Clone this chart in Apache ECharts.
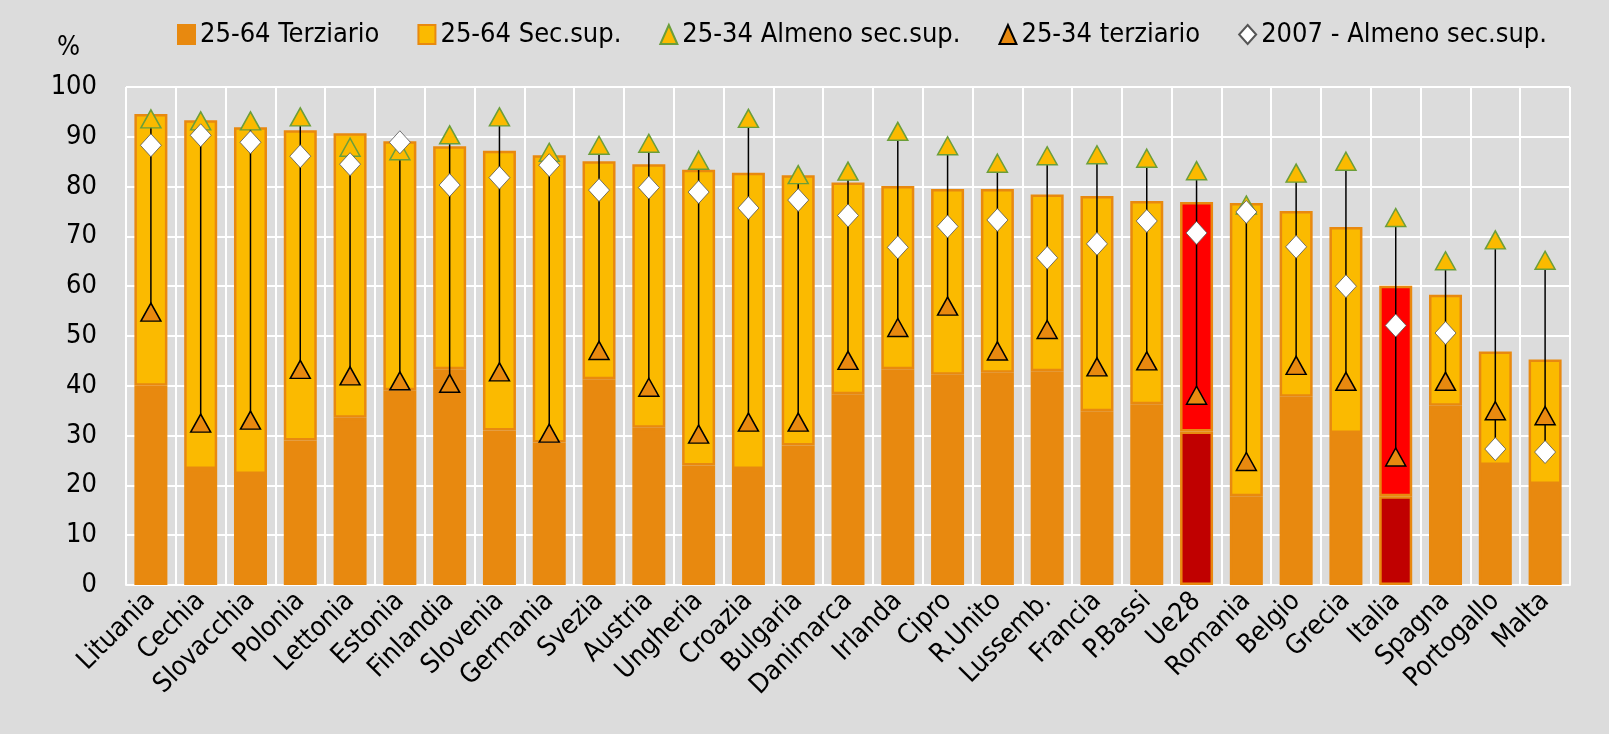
<!DOCTYPE html>
<html>
<head>
<meta charset="utf-8">
<script src="https://cdn.jsdelivr.net/npm/echarts@6/dist/echarts.min.js"></script>
<style>
  html, body { margin: 0; padding: 0; background: #dcdcdc; }
  #chart { width: 1609px; height: 734px; }
</style>
</head>
<body>
<div id="chart"></div>
<script>
var paesi = ['Lituania','Cechia','Slovacchia','Polonia','Lettonia','Estonia','Finlandia','Slovenia','Germania','Svezia',
  'Austria','Ungheria','Croazia','Bulgaria','Danimarca','Irlanda','Cipro','R.Unito','Lussemb.','Francia',
  'P.Bassi','Ue28','Romania','Belgio','Grecia','Italia','Spagna','Portogallo','Malta'];
// 25-64 terziario
var terziario2564 = [40.0,23.3,22.3,29.0,33.6,39.1,43.3,31.0,28.6,41.3,
  31.6,24.0,23.3,28.0,38.3,43.3,42.2,42.6,42.9,34.9,
  36.3,30.8,17.8,37.8,30.5,17.8,36.0,24.1,20.3];
// 25-64 secondaria superiore (segmento sopra il terziario)
var secSup2564 = [54.6,70.0,69.6,62.3,57.1,50.0,44.8,56.2,57.7,43.8,
  52.9,59.4,59.5,54.3,42.5,36.8,37.3,36.9,35.5,43.2,
  40.8,46.1,58.9,37.3,41.4,42.3,22.3,22.8,25.0];
// 25-34 almeno secondaria superiore
var almeno2534 = [93.6,93.2,93.2,94.0,87.9,87.2,90.4,94.0,86.9,88.3,
  88.7,85.3,93.7,82.4,83.1,91.1,88.2,84.7,86.2,86.4,
  85.7,83.2,76.3,82.7,85.1,73.8,65.1,69.3,65.2];
// 25-34 terziario
var terziario2534 = [54.8,32.5,33.1,43.3,42.0,41.0,40.5,42.8,30.5,47.1,
  39.7,30.3,32.7,32.7,45.1,51.7,56.0,47.0,51.3,43.8,
  45.0,38.1,24.8,44.1,40.9,25.7,40.9,35.0,34.0];
// 2007 almeno secondaria superiore
var almeno2007 = [88.3,90.3,88.9,86.1,84.5,88.9,80.3,81.8,84.3,79.3,
  79.8,78.9,75.7,77.3,74.2,67.8,72.0,73.3,65.7,68.5,
  73.1,70.7,74.9,67.9,60.0,52.1,50.6,27.3,26.7];
var evidenziati = ['Ue28','Italia'];
var yTicks = [0,10,20,30,40,50,60,70,80,90,100];

var font = "'Liberation Sans Narrow', 'Arial Narrow', 'DejaVu Sans Condensed', sans-serif";
var arancio = '#e8890f', giallo = '#fbba00';

function barData(vals, colNorm, colEvid) {
  return vals.map(function (v, i) {
    var ev = evidenziati.indexOf(paesi[i]) >= 0;
    return { value: v, itemStyle: { color: ev ? colEvid : colNorm } };
  });
}
var hiLo = paesi.map(function (p, i) {
  var a = [almeno2534[i], terziario2534[i], almeno2007[i]];
  return [i, Math.min.apply(null, a), Math.max.apply(null, a)];
});

var myChart = echarts.init(document.getElementById('chart'));
var option = {
  backgroundColor: '#dcdcdc',
  animation: false,
  textStyle: { fontFamily: font },
  legend: {
    top: 16, left: 172,
    itemGap: 38, itemWidth: 17, itemHeight: 19,
    textStyle: { fontSize: 27, color: '#000', fontFamily: font },
    data: [
      { name: '25-64 Terziario', icon: 'rect' },
      { name: '25-64 Sec.sup.', icon: 'rect' },
      { name: '25-34 Almeno sec.sup.', icon: 'triangle' },
      { name: '25-34 terziario', icon: 'triangle' },
      { name: '2007 - Almeno sec.sup.', icon: 'diamond' }
    ]
  },
  grid: { left: 126, right: 39, top: 87, bottom: 149 },
  xAxis: {
    type: 'category',
    data: paesi,
    axisTick: { show: false },
    axisLine: { show: true, lineStyle: { color: '#fff', width: 2 } },
    splitLine: { show: true, interval: 0, lineStyle: { color: '#fff', width: 2 } },
    axisLabel: { rotate: 45, interval: 0, fontSize: 27, color: '#000', margin: 12, fontFamily: font }
  },
  yAxis: {
    type: 'value', min: 0, max: 100, interval: 10,
    name: '%', nameLocation: 'end', nameGap: 26,
    nameTextStyle: { fontSize: 27, color: '#000', align: 'right', padding: [0, 46, 0, 0], fontFamily: font },
    axisLine: { show: false }, axisTick: { show: false },
    splitLine: { lineStyle: { color: '#fff', width: 2 } },
    axisLabel: { fontSize: 27, color: '#000', margin: 29, fontFamily: font,
      formatter: function (v) { return yTicks.indexOf(v) >= 0 ? String(v) : ''; } }
  },
  series: [
    {
      name: '25-64 Terziario', type: 'bar', stack: 'tot', barWidth: 33,
      itemStyle: { color: arancio, borderColor: arancio, borderWidth: 2.5 },
      data: barData(terziario2564, arancio, '#c00000')
    },
    {
      name: '25-64 Sec.sup.', type: 'bar', stack: 'tot', barWidth: 33,
      itemStyle: { color: giallo, borderColor: arancio, borderWidth: 2.5 },
      data: barData(secSup2564, giallo, '#ff0000')
    },
    {
      name: 'hilo', type: 'custom', z: 3,
      encode: { x: 0, y: [1, 2] },
      renderItem: function (params, api) {
        var lo = api.coord([api.value(0), api.value(1)]);
        var hi = api.coord([api.value(0), api.value(2)]);
        return { type: 'line', shape: { x1: lo[0], y1: lo[1], x2: hi[0], y2: hi[1] },
          style: { stroke: '#000', lineWidth: 1.5 } };
      },
      data: hiLo
    },
    {
      name: '25-34 Almeno sec.sup.', type: 'scatter', symbol: 'triangle', symbolSize: [20, 18], z: 4,
      itemStyle: { color: giallo, borderColor: '#6b9e3a', borderWidth: 1.5, opacity: 1 },
      data: almeno2534
    },
    {
      name: '25-34 terziario', type: 'scatter', symbol: 'triangle', symbolSize: [20, 18], z: 5,
      itemStyle: { color: arancio, borderColor: '#000', borderWidth: 1.5, opacity: 1 },
      data: terziario2534
    },
    {
      name: '2007 - Almeno sec.sup.', type: 'scatter', symbol: 'diamond', symbolSize: [21, 23], z: 6,
      itemStyle: { color: '#fff', borderColor: '#555', borderWidth: 0.8, opacity: 1 },
      data: almeno2007
    }
  ]
};
myChart.setOption(option);
</script>
</body>
</html>
